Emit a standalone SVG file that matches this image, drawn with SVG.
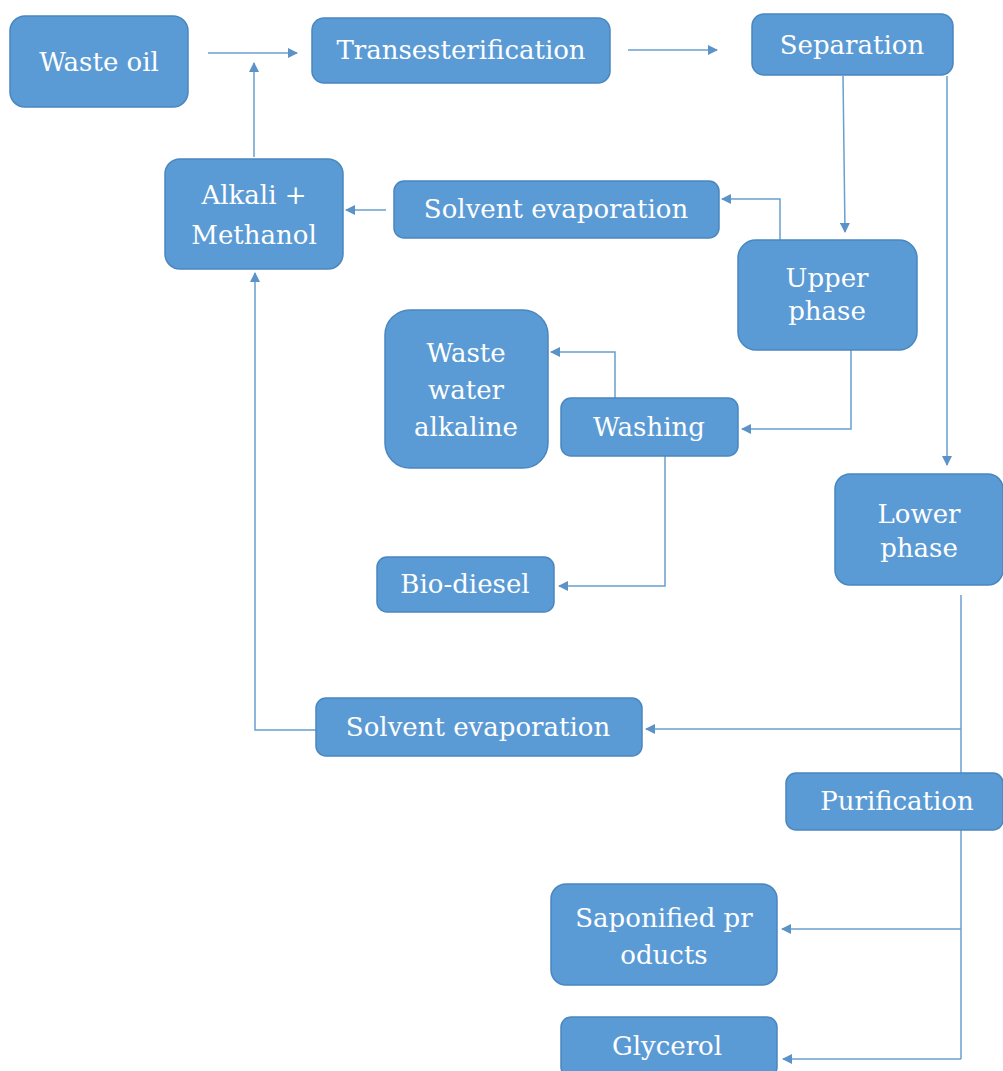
<svg xmlns="http://www.w3.org/2000/svg" width="1003" height="1071" viewBox="0 0 1003 1071">
<style>
.n rect{fill:#5b9bd5;stroke:#4a86bf;stroke-width:1.5}
.n text{fill:#ffffff;font-family:"DejaVu Serif","Liberation Serif",serif;font-size:26px;text-anchor:middle}
.c path{fill:none;stroke:#6a9fd0;stroke-width:1.5}
</style>
<defs>
<marker id="a" viewBox="0 0 10 10" refX="9" refY="5" markerWidth="12" markerHeight="10" markerUnits="userSpaceOnUse" orient="auto">
<path d="M0,0 L10,5 L0,10 Z" fill="#5b93c9"/>
</marker>
</defs>
<rect width="1003" height="1071" fill="#ffffff"/>
<g class="c">
<path d="M208,53 H297" marker-end="url(#a)"/>
<path d="M254,157 V63" marker-end="url(#a)"/>
<path d="M628,50 H717" marker-end="url(#a)"/>
<path d="M843,76 L845,232" marker-end="url(#a)"/>
<path d="M780,240 V199 H722" marker-end="url(#a)"/>
<path d="M386,210 H346" marker-end="url(#a)"/>
<path d="M851,350 V429 H742" marker-end="url(#a)"/>
<path d="M615,398 V352 H551" marker-end="url(#a)"/>
<path d="M665,456 V586 H559" marker-end="url(#a)"/>
<path d="M947,76 V465" marker-end="url(#a)"/>
<path d="M961,595 V1059"/>
<path d="M961,729 H646" marker-end="url(#a)"/>
<path d="M961,929 H782" marker-end="url(#a)"/>
<path d="M961,1059 H783" marker-end="url(#a)"/>
<path d="M316,730 H255 V273" marker-end="url(#a)"/>
</g>
<g id="waste-oil" class="n"><rect x="10" y="16" width="178" height="91" rx="15"/><text x="99" y="71">Waste oil</text></g>
<g id="transesterification" class="n"><rect x="312" y="18" width="298" height="65" rx="12"/><text x="461" y="59">Transesterification</text></g>
<g id="separation" class="n"><rect x="752" y="14" width="201" height="61" rx="12"/><text x="852" y="54">Separation</text></g>
<g id="alkali-methanol" class="n"><rect x="165" y="159" width="178" height="110" rx="15"/><text x="254" y="204">Alkali +</text><text x="254" y="244">Methanol</text></g>
<g id="solvent-evaporation-1" class="n"><rect x="394" y="181" width="325" height="57" rx="10"/><text x="556" y="218">Solvent evaporation</text></g>
<g id="upper-phase" class="n"><rect x="738" y="240" width="179" height="110" rx="18"/><text x="827" y="287">Upper</text><text x="827" y="320">phase</text></g>
<g id="waste-water-alkaline" class="n"><rect x="385" y="310" width="163" height="158" rx="25"/><text x="466" y="362">Waste</text><text x="466" y="399">water</text><text x="466" y="436">alkaline</text></g>
<g id="washing" class="n"><rect x="561" y="398" width="177" height="58" rx="10"/><text x="649" y="436">Washing</text></g>
<g id="lower-phase" class="n"><rect x="835" y="474" width="168" height="111" rx="15"/><text x="919" y="523">Lower</text><text x="919" y="557">phase</text></g>
<g id="bio-diesel" class="n"><rect x="377" y="557" width="177" height="55" rx="10"/><text x="465" y="593">Bio-diesel</text></g>
<g id="solvent-evaporation-2" class="n"><rect x="316" y="698" width="326" height="58" rx="10"/><text x="478" y="736">Solvent evaporation</text></g>
<g id="purification" class="n"><rect x="786" y="773" width="217" height="57" rx="10"/><text x="897" y="810">Purification</text></g>
<g id="saponified-products" class="n"><rect x="551" y="884" width="226" height="101" rx="15"/><text x="664" y="927">Saponified pr</text><text x="664" y="964">oducts</text></g>
<g id="glycerol" class="n"><rect x="561" y="1017" width="216" height="60" rx="10"/><text x="667" y="1055">Glycerol</text></g>
</svg>
